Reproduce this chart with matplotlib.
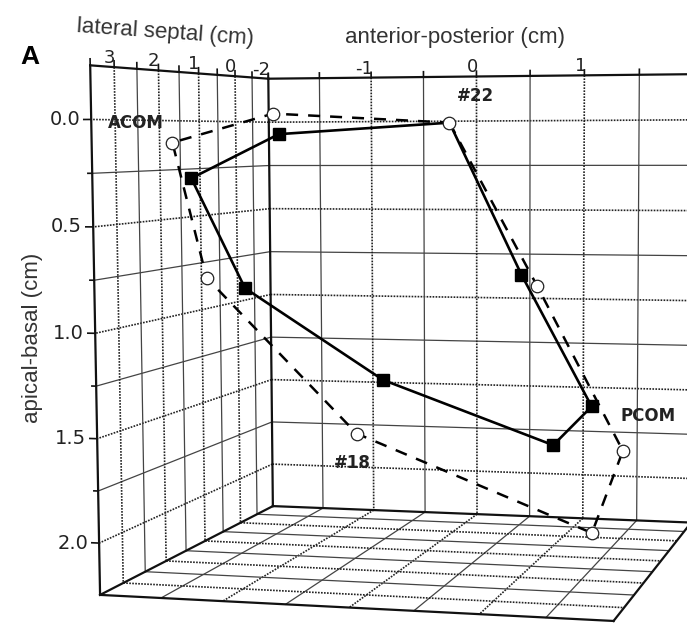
import numpy as np
import matplotlib.pyplot as plt

# contour A (#18, dashed, open circles) and contour B (#22, solid, squares)
# each point: anterior-posterior, lateral septal, apical-basal (cm)
dash_ap = [-0.14, 0.76, 1.60, 1.42, -0.48, -1.61, -1.71, -1.49]
dash_ls = [-0.5, 0.0, 0.5, 1.0, 1.5, 2.0, 2.5, 0.5]
dash_z = [0.01, 0.89, 1.73, 2.12, 1.60, 0.79, 0.11, -0.04]

solid_ap = [-0.14, 0.62, 1.33, 1.09, -0.25, -1.28, -1.73, -1.44]
solid_ls = [-0.5, 0.0, 0.5, 1.0, 1.5, 2.0, 2.0, 0.5]
solid_z = [0.01, 0.83, 1.50, 1.67, 1.32, 0.84, 0.29, 0.07]

z_ticks = [0.0, 0.5, 1.0, 1.5, 2.0]
ls_ticks = [3, 2, 1, 0]
ap_ticks = [-2, -1, 0, 1, 2]

# view anchors: box corners (ap, lat, z) -> where they land on the 687x623 canvas
anchor_world = np.array([
    (-2, -1, -0.25), (-2, 3.5, -0.25), (-2, -1, 2.25), (-2, 3.5, 2.25),
    (2, 3.5, 2.25), (2, -1, -0.25), (0, -1, 0), (1, -1, 0), (1, -1, 2.25),
    (0, -1, 2.25), (-2, 3.5, 0), (-2, 3.5, 2.0), (-1, -1, 0), (1.5, 3.5, 2.25),
    (0, 3.5, 2.25), (-2, 0, 0)])
anchor_px = np.array([
    (269, 77), (89, 67), (273, 507), (99, 594), (616, 621), (694, 73),
    (477, 122), (584, 121), (583, 520), (475, 513), (90, 120), (100, 543),
    (372, 122), (545, 617), (350, 607), (237, 121)])


def fit_camera(world, px):
    # plain DLT for a pinhole view
    rows = []
    for (X, Y, Z), (u, v) in zip(world, px):
        u, v = u / 100.0, v / 100.0
        rows.append([X, Y, Z, 1, 0, 0, 0, 0, -u * X, -u * Y, -u * Z, -u])
        rows.append([0, 0, 0, 0, X, Y, Z, 1, -v * X, -v * Y, -v * Z, -v])
    _, _, vt = np.linalg.svd(np.array(rows))
    return np.diag([100.0, 100.0, 1.0]) @ vt[-1].reshape(3, 4)


CAM = fit_camera(anchor_world, anchor_px)


def proj(ap, lat, z):
    ap, lat, z = np.broadcast_arrays(np.asarray(ap, float), np.asarray(lat, float),
                                     np.asarray(z, float))
    h = CAM @ np.vstack([ap.ravel(), lat.ravel(), z.ravel(), np.ones(ap.size)])
    return h[0] / h[2], h[1] / h[2]


fig = plt.figure(figsize=(6.87, 6.23), dpi=100)
ax = fig.add_axes([0, 0, 1, 1])
ax.set_xlim(0, 687)
ax.set_ylim(623, 0)
ax.axis("off")


def line3(ap, lat, z, **kw):
    x, y = proj(ap, lat, z)
    ax.plot(x, y, **kw)


def is_major(v):
    return abs(v * 2 - round(v * 2)) < 1e-6


dotted = dict(color="#222222", lw=1.2, linestyle=(0, (1, 0.8)))
thin = dict(color="#444444", lw=0.9)
edge = dict(color="#111111", lw=1.6)

# walls and floor grid
for zz in np.arange(0, 2.01, 0.25):
    st = dotted if is_major(zz) else thin
    line3([-2, 2.2], -1, zz, **st)
    line3(-2, [-1, 3.5], zz, **st)
for a in np.arange(-1.5, 1.51, 0.5):
    st = dotted if abs(a - round(a)) < 1e-6 else thin
    line3(a, -1, [-0.25, 2.25], **st)
    line3(a, [-1, 3.5], 2.25, **st)
for l in np.arange(-0.5, 3.01, 0.5):
    st = dotted if abs(l - round(l)) < 1e-6 else thin
    line3(-2, l, [-0.25, 2.25], **st)
    line3([-2, 2], l, 2.25, **st)

line3(-2, [-1, 3.5], -0.25, **edge)
line3([-2, 2.2], -1, -0.25, **edge)
line3(-2, 3.5, [-0.25, 2.25], **edge)
line3(-2, -1, [-0.25, 2.25], **edge)
line3([-2, 2], -1, 2.25, **edge)
line3([-2, 2], 3.5, 2.25, **edge)
line3(-2, [-1, 3.5], 2.25, **edge)
line3(2, [-1, 3.5], 2.25, **edge)

# ticks and tick labels
tick_font = dict(family="DejaVu Sans", color="#222222")
for zz in np.arange(0, 2.01, 0.25):
    line3([-2, -2.06 if is_major(zz) else -2.035], 3.5, zz, color="#111111", lw=1.2)
for zz in z_ticks:
    x, y = proj(-2, 3.5, zz)
    ax.annotate(f"{zz:.1f}", (x[0], y[0]), xytext=(-11, 0), textcoords="offset pixels",
                ha="right", va="center", fontsize=14, **tick_font)
for l in np.arange(-1, 3.51, 0.5):
    line3(-2, l, [-0.25, -0.28], color="#111111", lw=1.2)
for l in ls_ticks:
    x, y = proj(-2, l, -0.25)
    ax.annotate(f"{l}", (x[0], y[0]), xytext=(1, 4), textcoords="offset pixels",
                ha="right", va="baseline", fontsize=13, **tick_font)
for a in np.arange(-2, 2.01, 0.5):
    line3(a, -1, [-0.25, -0.28], color="#111111", lw=1.2)
for a in ap_ticks:
    x, y = proj(a, -1, -0.25)
    ax.annotate(f"{a}", (x[0], y[0]), xytext=(2, 4), textcoords="offset pixels",
                ha="right", va="baseline", fontsize=13, **tick_font)

# contours
dx, dy = proj(dash_ap + dash_ap[:1], dash_ls + dash_ls[:1], dash_z + dash_z[:1])
ax.plot(dx, dy, color="black", lw=1.8, linestyle=(0, (4.8, 4)), zorder=3)
ax.plot(dx[:-1], dy[:-1], "o", ms=9, mfc="white", mec="#222222", mew=0.9, zorder=5)
sx, sy = proj(solid_ap + solid_ap[:1], solid_ls + solid_ls[:1], solid_z + solid_z[:1])
ax.plot(sx, sy, color="black", lw=1.9, zorder=4)
ax.plot(sx[1:-1], sy[1:-1], "s", ms=8, color="black", zorder=4)

bold = dict(family="DejaVu Sans", fontweight="bold", fontsize=12, color="#222222",
            textcoords="offset pixels", ha="center", va="center", zorder=6)
ax.annotate("ACOM", (dx[6], dy[6]), xytext=(-37, 20), **bold)
ax.annotate("#22", (dx[0], dy[0]), xytext=(26, 27), **bold)
ax.annotate("PCOM", (sx[2], sy[2]), xytext=(56, -10), **bold)
ax.annotate("#18", (dx[4], dy[4]), xytext=(-4, -29), **bold)

lab_font = dict(family="Liberation Sans", color="#333333", fontsize=16)
ax.text(165, 33, "lateral septal (cm)", rotation=-4, ha="center", va="center", **lab_font)
ax.text(455, 38, "anterior-posterior (cm)", ha="center", va="center", **lab_font)
ax.text(33, 338, "apical-basal (cm)", rotation=90, ha="center", va="center", **lab_font)
ax.text(30, 57, "A", ha="center", va="center", family="Liberation Sans",
        fontweight="bold", fontsize=19, color="black")

fig.savefig("out.png", dpi=100)
